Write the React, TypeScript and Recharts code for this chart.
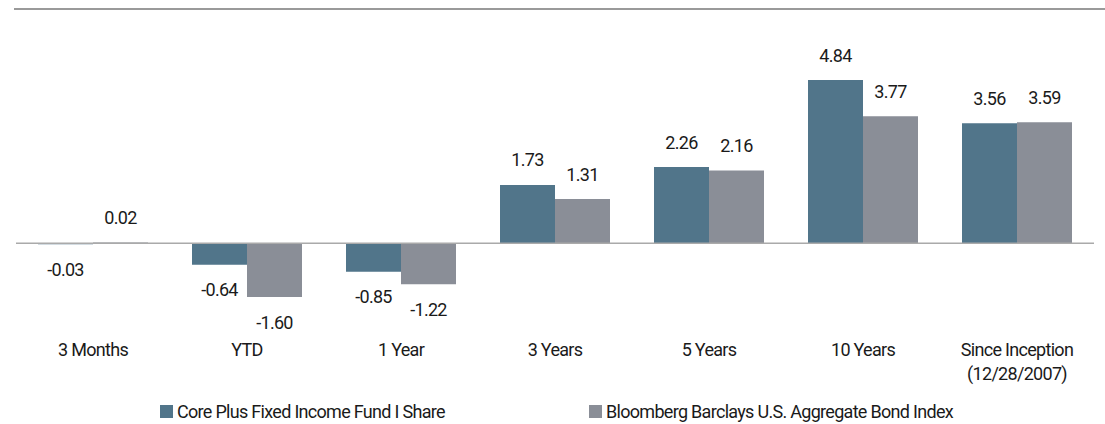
import React from 'react';
import { BarChart, Bar, XAxis, YAxis, ReferenceLine, LabelList } from 'recharts';

const categories = ['3 Months', 'YTD', '1 Year', '3 Years', '5 Years', '10 Years', 'Since Inception\n(12/28/2007)'];
const fundValues = [-0.03, -0.64, -0.85, 1.73, 2.26, 4.84, 3.56];
const indexValues = [0.02, -1.60, -1.22, 1.31, 2.16, 3.77, 3.59];
const seriesNames = ['Core Plus Fixed Income Fund I Share', 'Bloomberg Barclays U.S. Aggregate Bond Index'];

const FUND_COLOR = '#51758a';
const INDEX_COLOR = '#8a8e97';
const FONT = 'Roboto, "Liberation Sans", sans-serif';
const LS = '-0.7px';

const data = categories.map((c, i) => ({ name: c, fund: fundValues[i], index: indexValues[i] }));

const ValueLabel = (props: any) => {
  const { x, y, width, height, value } = props;
  const top = Math.min(y, y + height);
  const bottom = Math.max(y, y + height);
  const cy = value >= 0 ? top - 25 : bottom + 25;
  return (
    <text x={x + width / 2} y={cy} textAnchor="middle" dominantBaseline="central" fill="#1a1a1a" fontSize={18} fontFamily={FONT} style={{ letterSpacing: LS }}>
      {Number(value).toFixed(2)}
    </text>
  );
};

const CatTick = (props: any) => {
  const { x, y, payload } = props;
  const lines = String(payload.value).split('\n');
  return (
    <g>
      {lines.map((l, i) => (
        <text key={i} x={x} y={y + 39 + i * 24} textAnchor="middle" dominantBaseline="central" fill="#1a1a1a" fontSize={18} fontFamily={FONT} style={{ letterSpacing: LS }}>
          {l}
        </text>
      ))}
    </g>
  );
};

export default function App() {
  return (
    <div style={{ position: 'absolute', left: 0, top: 0, width: 1105, height: 424, background: '#fff' }}>
      <div style={{ position: 'absolute', left: 14, top: 8, width: 1091, height: 2, background: '#9a9a9a' }} />
      <div style={{ position: 'absolute', left: 0, top: 0 }}>
        <BarChart width={1105} height={424} data={data} margin={{ top: 41, right: 11, bottom: 0, left: 16 }} barGap={0} barSize={55}>
          <YAxis hide domain={[-2, 6]} type="number" allowDataOverflow />
          <XAxis dataKey="name" axisLine={false} tickLine={false} tickSize={0} tickMargin={0} height={113.4} interval={0} tick={<CatTick />} />
          <ReferenceLine y={0} stroke="#aaaaaa" strokeWidth={1.5} />
          <Bar dataKey="fund" name={seriesNames[0]} fill={FUND_COLOR} isAnimationActive={false}>
            <LabelList dataKey="fund" content={<ValueLabel />} />
          </Bar>
          <Bar dataKey="index" name={seriesNames[1]} fill={INDEX_COLOR} isAnimationActive={false}>
            <LabelList dataKey="index" content={<ValueLabel />} />
          </Bar>
        </BarChart>
      </div>
      {[{ left: 160, color: FUND_COLOR, name: seriesNames[0] }, { left: 589, color: INDEX_COLOR, name: seriesNames[1] }].map((it, i) => (
        <div key={i} style={{ position: 'absolute', left: it.left, top: 402, height: 18, display: 'flex', alignItems: 'center', fontFamily: FONT, fontSize: 18, letterSpacing: LS, color: '#1a1a1a', whiteSpace: 'nowrap' }}>
          <span style={{ display: 'inline-block', width: 13, height: 13, background: it.color, marginRight: 4 }} />
          <span>{it.name}</span>
        </div>
      ))}
    </div>
  );
}
